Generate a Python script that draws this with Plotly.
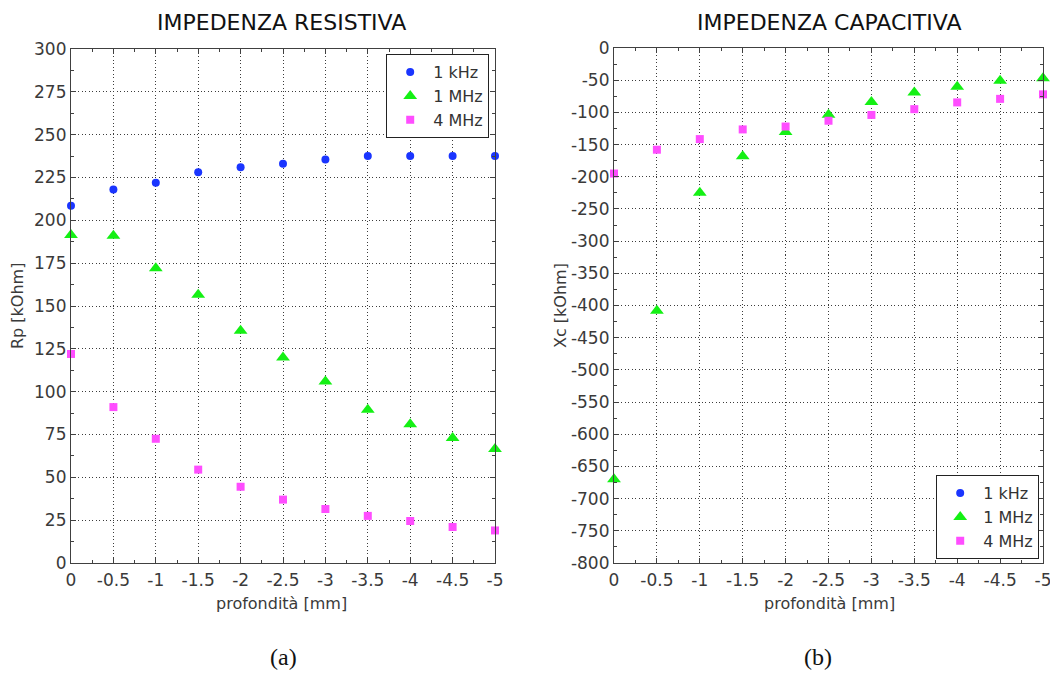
import plotly.graph_objects as go

# depth positions [mm]
depth = [0, -0.5, -1, -1.5, -2, -2.5, -3, -3.5, -4, -4.5, -5]

# resistive part Rp [kOhm]
rp_1khz = [208.5, 218, 222, 228, 231, 233, 235.5, 237.5, 237.5, 237.5, 237.5]
rp_1mhz = [191.5, 191, 172, 156.5, 135.5, 120, 106, 89.5, 81, 73, 66.5]
rp_4mhz = [122, 91, 72.5, 54.5, 44.5, 37, 31.5, 27.5, 24.5, 21, 19]

# capacitive part Xc [kOhm] (1 kHz values fall outside the plotted range)
xc_1khz = [None] * 11
xc_1mhz = [-670, -408, -225, -168, -130.5, -103.5, -84, -69, -60, -51, -47]
xc_4mhz = [-195, -158, -141.5, -126.5, -122, -113, -104, -95, -84.5, -79, -72]

freq_labels = ["1 kHz", "1 MHz", "4 MHz"]

# tick positions and labels (plain hyphen as minus sign)
x_ticks = [0, -0.5, -1, -1.5, -2, -2.5, -3, -3.5, -4, -4.5, -5]
x_tick_labels = ["0", "-0.5", "-1", "-1.5", "-2", "-2.5", "-3", "-3.5", "-4", "-4.5", "-5"]
rp_ticks = [0, 25, 50, 75, 100, 125, 150, 175, 200, 225, 250, 275, 300]
rp_tick_labels = ["0", "25", "50", "75", "100", "125", "150", "175", "200", "225", "250", "275", "300"]
xc_ticks = [0, -50, -100, -150, -200, -250, -300, -350, -400, -450, -500, -550, -600,
            -650, -700, -750, -800]
xc_tick_labels = ["0", "-50", "-100", "-150", "-200", "-250", "-300", "-350", "-400", "-450",
                  "-500", "-550", "-600", "-650", "-700", "-750", "-800"]

colors = ["#1a35ff", "#14f014", "#ff4dff"]
symbols = ["circle", "triangle-up", "square"]
sizes = [8, 12, 8]

W, H = 1050, 673
FONT = "DejaVu Sans, Liberation Sans, sans-serif"
TICK_COLOR = "#3a3a3a"

fig = go.Figure()

left_series = [rp_1khz, rp_1mhz, rp_4mhz]
right_series = [xc_1khz, xc_1mhz, xc_4mhz]

for i in range(3):
    fig.add_trace(go.Scatter(
        x=depth, y=left_series[i], mode="markers", name=freq_labels[i],
        marker=dict(color=colors[i], symbol=symbols[i], size=sizes[i], line=dict(width=0)),
        xaxis="x", yaxis="y", legend="legend", cliponaxis=False,
    ))
for i in range(3):
    fig.add_trace(go.Scatter(
        x=depth, y=right_series[i], mode="markers", name=freq_labels[i],
        marker=dict(color=colors[i], symbol=symbols[i], size=sizes[i], line=dict(width=0)),
        xaxis="x2", yaxis="y2", legend="legend2", cliponaxis=False,
    ))

def px_x(p):
    return p / W

def px_y(p):
    return 1 - p / H

common_axis = dict(
    showline=True, linecolor="#404040", linewidth=1.2, mirror="ticks",
    ticks="inside", ticklen=5, tickcolor="#404040", tickwidth=1,
    showgrid=True, gridcolor="#3c3c3c", griddash="1px,2.5px", gridwidth=1,
    zeroline=False, automargin=False, ticklabeloverflow="allow",
    tickfont=dict(family=FONT, size=17, color=TICK_COLOR),
    minor=dict(ticks="inside", ticklen=3, tickcolor="#404040", showgrid=False),
)

xaxis_common = dict(common_axis, range=[0, -5], tickmode="array",
                    tickvals=x_ticks, ticktext=x_tick_labels, ticklabelstandoff=1)
xaxis_common["minor"] = dict(common_axis["minor"], dtick=0.25, tick0=0)

legend_common = dict(
    bgcolor="white", bordercolor="#222222", borderwidth=1.2,
    font=dict(family=FONT, size=16, color="#333333"),
    tracegroupgap=0, itemwidth=36,
)

fig.update_layout(
    width=W, height=H,
    margin=dict(l=0, r=0, t=0, b=0),
    paper_bgcolor="white", plot_bgcolor="white",
    font=dict(family=FONT, color=TICK_COLOR),
    xaxis=dict(xaxis_common, domain=[px_x(71), px_x(495)], anchor="y"),
    yaxis=dict(common_axis, domain=[px_y(563), px_y(49)], range=[0, 300],
               tickmode="array", tickvals=rp_ticks, ticktext=rp_tick_labels,
               anchor="x", minor=dict(common_axis["minor"], dtick=12.5, tick0=0)),
    xaxis2=dict(xaxis_common, domain=[px_x(614), px_x(1043)], anchor="y2"),
    yaxis2=dict(common_axis, domain=[px_y(563), px_y(48)], range=[-800, 0],
                tickmode="array", tickvals=xc_ticks, ticktext=xc_tick_labels,
                anchor="x2", minor=dict(common_axis["minor"], dtick=25, tick0=0)),
    legend=dict(legend_common, x=px_x(489), y=px_y(54), xanchor="right", yanchor="top"),
    legend2=dict(legend_common, x=px_x(1039), y=px_y(559), xanchor="right", yanchor="bottom"),
    showlegend=True,
)

annotations = [
    dict(text="IMPEDENZA RESISTIVA", x=px_x(281), y=px_y(23), font=dict(size=22, color="#111111")),
    dict(text="IMPEDENZA CAPACITIVA", x=px_x(829), y=px_y(23), font=dict(size=22, color="#111111")),
    dict(text="profondità [mm]", x=px_x(281), y=px_y(603), font=dict(size=16, color=TICK_COLOR)),
    dict(text="profondità [mm]", x=px_x(829), y=px_y(603), font=dict(size=16, color=TICK_COLOR)),
    dict(text="Rp [kOhm]", x=px_x(18), y=px_y(306), textangle=-90, font=dict(size=16, color=TICK_COLOR)),
    dict(text="Xc [kOhm]", x=px_x(561), y=px_y(306), textangle=-90, font=dict(size=16, color=TICK_COLOR)),
    dict(text="(a)", x=px_x(283), y=px_y(657),
         font=dict(family="Liberation Serif, DejaVu Serif, serif", size=24, color="#111111")),
    dict(text="(b)", x=px_x(818), y=px_y(657),
         font=dict(family="Liberation Serif, DejaVu Serif, serif", size=24, color="#111111")),
]
for a in annotations:
    fig.add_annotation(xref="paper", yref="paper", showarrow=False,
                       xanchor="center", yanchor="middle", **a)

fig.write_html("out.html")
